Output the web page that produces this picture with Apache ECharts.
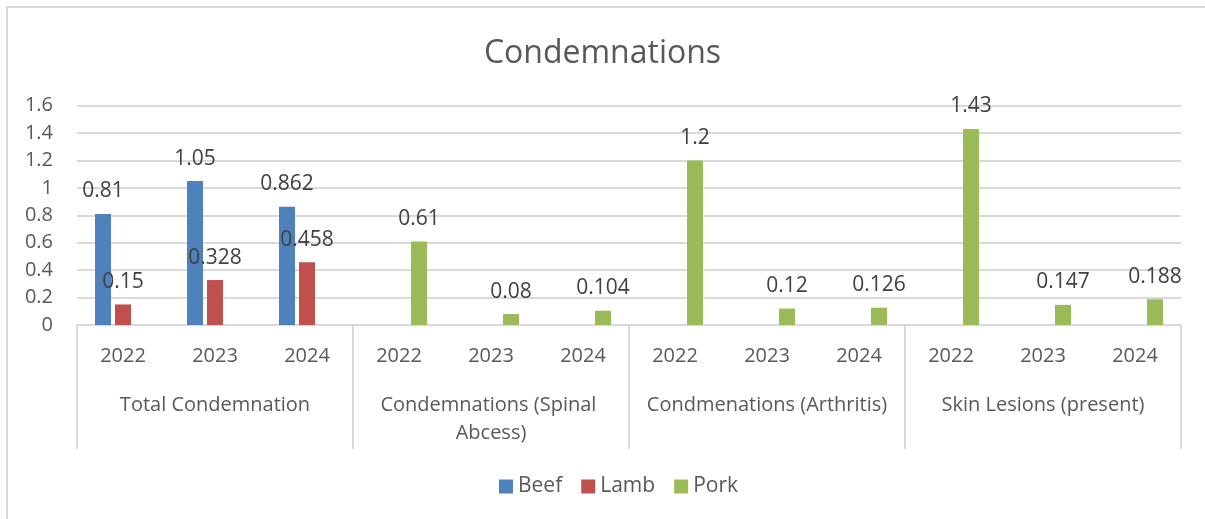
<!DOCTYPE html>
<html>
<head>
<meta charset="utf-8">
<script src="https://cdn.jsdelivr.net/npm/echarts@6/dist/echarts.min.js"></script>
<style>
html,body{margin:0;padding:0;background:#fff;}
#chart{width:1205px;height:519px;}
</style>
</head>
<body>
<div id="chart"></div>
<script>
const groups = ['Total Condemnation', 'Condemnations (Spinal Abcess)', 'Condmenations (Arthritis)', 'Skin Lesions (present)'];
const years = ['2022', '2023', '2024'];
const beef = [0.81, 1.05, 0.862, null, null, null, null, null, null, null, null, null];
const lamb = [0.15, 0.328, 0.458, null, null, null, null, null, null, null, null, null];
const pork = [null, null, null, 0.61, 0.08, 0.104, 1.2, 0.12, 0.126, 1.43, 0.147, 0.188];
const yTicks = { min: 0, max: 1.6, interval: 0.2 };

const categories = [];
groups.forEach(function (g) { years.forEach(function (y) { categories.push(y); }); });

const FONT = 'Open Sans';
const gray = '#d9d9d9';
const txt = '#595959';

const chart = echarts.init(document.getElementById('chart'), null, { renderer: 'canvas' });

function barSeries(name, data, color) {
  return {
    name: name,
    type: 'bar',
    data: data,
    barWidth: 16,
    barGap: '25%',
    itemStyle: { color: color },
    label: {
      show: true,
      position: 'top',
      distance: 12,
      fontFamily: FONT,
      fontSize: 21,
      color: '#404040',
      formatter: function (p) { return p.value == null ? '' : String(p.value); }
    }
  };
}

chart.setOption({
  animation: false,
  backgroundColor: '#ffffff',
  title: {
    text: 'Condemnations',
    left: 'center',
    top: 33,
    textStyle: { fontFamily: FONT, fontSize: 32, fontWeight: 'normal', color: txt }
  },
  legend: {
    data: ['Beef', 'Lamb', 'Pork'],
    left: 494,
    top: 471,
    icon: 'rect',
    itemWidth: 14,
    itemHeight: 14,
    itemGap: 19,
    textStyle: { fontFamily: FONT, fontSize: 21, color: txt }
  },
  grid: { left: 77, right: 24, top: 105.7, bottom: 194, containLabel: false },
  xAxis: [
    {
      type: 'category',
      data: categories,
      position: 'bottom',
      axisLine: { show: true, lineStyle: { color: gray, width: 2 } },
      axisTick: { show: false },
      axisLabel: { interval: 0, margin: 21, fontFamily: FONT, fontSize: 20, color: txt }
    },
    {
      type: 'category',
      data: groups,
      position: 'bottom',
      axisLine: { show: false },
      axisTick: { show: true, interval: 0, length: 124, lineStyle: { color: gray, width: 2 } },
      axisLabel: {
        interval: 0, margin: 66, fontFamily: FONT, fontSize: 20, color: txt,
        lineHeight: 28, width: 268, overflow: 'break', align: 'center'
      }
    }
  ],
  yAxis: {
    type: 'value',
    min: yTicks.min,
    max: yTicks.max,
    interval: yTicks.interval,
    axisLine: { show: false },
    axisTick: { show: false },
    splitLine: { lineStyle: { color: gray, width: 2 } },
    axisLabel: { margin: 24, fontFamily: FONT, fontSize: 20, color: txt }
  },
  series: [
    barSeries('Beef', beef, '#4F81BD'),
    barSeries('Lamb', lamb, '#C0504D'),
    barSeries('Pork', pork, '#9BBB59')
  ],
  graphic: [
    { type: 'line', silent: true, shape: { x1: 6, y1: 7, x2: 1205, y2: 7 }, style: { stroke: gray, lineWidth: 2 } },
    { type: 'line', silent: true, shape: { x1: 7, y1: 6, x2: 7, y2: 519 }, style: { stroke: gray, lineWidth: 2 } }
  ]
});
</script>
</body>
</html>
